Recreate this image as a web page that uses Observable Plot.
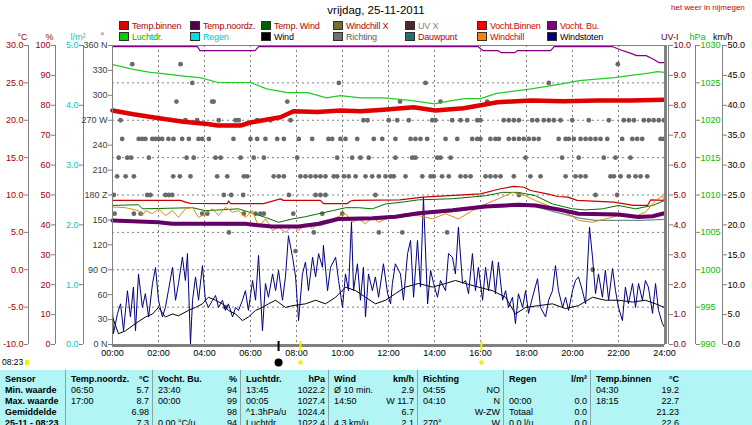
<!DOCTYPE html>
<html><head><meta charset="utf-8">
<script src="https://cdn.jsdelivr.net/npm/d3@7"></script>
<script src="https://cdn.jsdelivr.net/npm/@observablehq/plot@0.6"></script>
<style>
body{margin:0;background:#fff;font-family:"Liberation Sans",Arial,sans-serif;}
#wrap{position:relative;width:752px;height:425px;overflow:hidden;background:#fff;}
#chart{position:absolute;left:0;top:0;}
#title{position:absolute;left:0;width:752px;top:4px;text-align:center;font-size:11.5px;color:#000;}
#site{position:absolute;left:671px;top:3px;font-size:8px;color:#c00000;white-space:nowrap;}
.lg{position:absolute;font-size:9px;line-height:10px;white-space:nowrap;letter-spacing:-0.2px;}
.lg i{display:inline-block;width:8px;height:7px;border:1px solid #303030;margin-right:3px;vertical-align:-1px;}
#stamp{position:absolute;left:2px;top:357px;font-size:8.5px;color:#000;}
#stamp b{display:inline-block;width:4px;height:5px;background:#f0f000;margin-left:2px;vertical-align:0;}
#table{position:absolute;left:0;top:370px;width:752px;height:60px;background:#b3f4f4;}
.col{position:absolute;top:0;height:60px;}
.col.sep{border-left:1px solid #8aa4a4;}
.ln{height:11px;line-height:11px;font-size:9px;display:flex;justify-content:space-between;padding:0 4px 0 5px;white-space:nowrap;}
.ln.bold{font-weight:bold;}
</style></head>
<body><div id="wrap">
<div id="chart"></div>
<div id="title">vrijdag, 25-11-2011</div>
<div id="site">het weer in nijmegen</div>
<div id="legend"></div>
<div id="stamp">08:23<b></b></div>
<div id="table"></div>
</div>
<script>
// ---------- DATA ----------
// [hour, value]
const tempBinnen = [[0,21.3],[0.91,20.8],[1.96,20.3],[3.09,19.8],[4.13,19.5],[4.57,19.3],[5.57,19.3],[6.0,19.7],[6.74,20.1],[7.3,20.4],[7.87,21.2],[8.91,21.1],[9.91,21.3],[10.78,21.2],[11.78,21.4],[13.09,21.75],[14.04,21.3],[15.26,21.6],[16.0,22.0],[16.74,22.4],[18.17,22.65],[19.61,22.55],[21.09,22.65],[22.52,22.65],[24,22.75]];
const tempNoordz = [[0,6.6],[2.0,6.35],[2.6,6.15],[4.04,6.15],[5.78,6.15],[6.22,6.0],[6.94,5.8],[8.09,5.8],[8.96,6.15],[9.83,6.8],[11.3,6.9],[12.3,7.1],[13.3,7.55],[14.78,7.95],[16.2,8.45],[17.65,8.7],[18.4,8.6],[19.4,8.05],[20.26,7.5],[22.0,7.4],[22.87,7.05],[23.48,7.15],[24,7.55]];
const tempWind = [[0,8.6],[1.13,8.7],[1.3,8.15],[3.48,8.3],[4.04,7.9],[5.48,8.15],[6.09,7.55],[6.65,7.0],[7.22,6.35],[7.83,6.8],[8.39,7.1],[8.96,7.5],[9.57,7.9],[10.13,8.3],[10.7,8.3],[11.3,8.15],[11.87,8.8],[12.61,9.05],[13.3,9.35],[14.78,9.5],[16.22,9.9],[16.96,10.35],[17.65,10.35],[18.39,9.9],[19.13,8.8],[20.0,8.15],[20.57,8.0],[21.3,8.15],[22.0,8.6],[22.74,8.15],[23.48,8.6],[24,9.25]];
const windchill = [[0,8.4],[0.57,8.3],[1.13,7.9],[1.3,7.25],[1.43,7.9],[1.74,7.5],[2.0,8.15],[2.3,7.25],[2.61,7.9],[2.87,7.0],[3.17,8.15],[3.48,8.35],[3.74,7.0],[4.04,7.5],[4.35,8.15],[4.61,7.25],[4.91,8.35],[5.22,7.7],[5.48,7.9],[5.78,7.0],[6.09,7.9],[6.35,5.7],[6.65,6.8],[6.96,5.25],[7.22,5.7],[7.52,5.0],[7.83,5.9],[8.09,5.25],[8.39,6.15],[8.7,5.5],[8.96,6.35],[9.57,6.8],[10.13,7.5],[10.43,6.35],[10.7,6.8],[11.0,6.15],[11.3,7.0],[11.57,6.35],[11.87,6.8],[12.17,7.0],[12.74,7.5],[13.3,7.25],[13.91,6.8],[14.48,7.5],[15.04,6.8],[15.65,7.9],[16.22,8.8],[16.78,9.5],[17.39,10.35],[17.96,9.9],[18.39,9.25],[19.13,8.35],[19.7,7.7],[20.26,6.6],[20.87,6.35],[21.43,6.8],[22.0,7.25],[22.61,7.0],[23.17,7.7],[23.61,9.25],[23.91,9.9],[24,9.0]];
const dauwpunt = [[0,6.5],[2.0,6.3],[4.0,6.05],[6.0,5.95],[7.0,5.75],[8.1,5.75],[9.0,5.9],[9.8,6.6],[11.3,6.75],[12.3,6.95],[13.3,7.4],[14.8,7.8],[16.2,8.3],[17.6,8.55],[18.4,8.45],[19.4,7.6],[20.3,6.9],[21.0,6.6],[22.0,6.6],[23.0,6.6],[24,6.75]];
const vochtBinnen = [[0,48.2],[2.96,48.2],[3.17,47.6],[3.39,47.2],[5.0,47.1],[5.04,48.0],[5.13,47.1],[6.57,47.1],[7.3,48.7],[7.43,48.2],[9.04,48.2],[9.17,47.1],[10.2,47.1],[10.35,48.0],[10.5,48.2],[12.5,48.4],[13.5,49.3],[16.0,50.4],[16.87,52.1],[17.45,52.9],[17.9,52.6],[18.17,51.5],[18.9,50.4],[19.35,49.5],[19.8,49.3],[20.2,48.2],[21.8,47.6],[22.65,46.5],[23.26,46.5],[23.4,48.4],[24,48.2]];
const vochtBu = [[0,99.6],[3.7,99.6],[3.8,98.3],[6.2,98.3],[6.35,99.6],[15.9,99.6],[16.1,98.3],[16.75,98.3],[16.9,97.6],[17.5,97.6],[17.6,98.3],[19.05,98.3],[19.2,99.6],[21.75,99.6],[22.1,98.5],[22.45,97.6],[22.8,96.6],[23.2,96.6],[23.5,95.5],[23.75,94.3],[24,94.3]];
const luchtdruk = [[0,1027.45],[0.35,1027.2],[0.9,1026.8],[1.65,1026.4],[2.0,1026.3],[3.1,1025.9],[3.8,1025.7],[4.6,1025.05],[6.0,1025.05],[6.7,1024.2],[7.6,1023.7],[8.5,1023.7],[9.3,1023.0],[9.9,1023.3],[10.8,1023.0],[11.8,1023.0],[12.5,1022.8],[13.1,1022.6],[14.0,1022.2],[14.7,1022.6],[15.3,1022.9],[16.0,1022.9],[16.7,1023.6],[18.2,1024.2],[19.6,1024.9],[20.3,1025.3],[21.8,1025.7],[23.3,1026.3],[23.7,1026.5],[24,1026.4]];
const wind = [[0,4.6],[0.26,1.8],[0.57,2.3],[1.0,3.5],[1.43,4.6],[1.74,5.1],[2.0,6.2],[2.3,4.6],[2.61,5.1],[2.87,4.8],[3.3,5.7],[3.61,6.2],[3.91,6.8],[4.17,7.9],[4.48,7.4],[4.78,6.8],[5.04,5.7],[5.35,5.1],[5.65,4.0],[5.91,4.6],[6.22,5.7],[6.52,6.2],[6.78,6.8],[7.09,7.4],[7.52,6.2],[7.83,6.5],[8.39,6.8],[8.83,7.4],[9.26,6.8],[9.7,7.9],[10.13,9.6],[10.57,9.0],[11.0,7.9],[11.43,6.8],[11.87,7.4],[12.3,8.5],[12.74,9.6],[13.3,10.2],[13.91,9.6],[14.48,10.2],[14.91,10.7],[15.35,10.2],[15.91,9.6],[16.52,9.0],[17.09,7.9],[17.52,5.1],[17.96,6.2],[18.52,6.5],[19.13,6.8],[19.7,6.0],[20.26,6.5],[20.87,7.9],[21.43,7.4],[22.0,7.4],[22.61,7.1],[23.17,7.4],[23.61,6.8],[24,6.2]];
const windstoten = [[0,6.2],[0.04,1.8],[0.22,5.2],[0.35,6.8],[0.48,2.3],[0.65,9.0],[0.78,4.6],[0.91,9.6],[1.0,2.3],[1.13,11.8],[1.3,6.2],[1.43,8.5],[1.57,4.6],[1.74,10.2],[1.87,12.9],[2.0,7.4],[2.17,4.6],[2.3,6.2],[2.43,9.0],[2.61,12.9],[2.74,7.4],[2.87,10.2],[3.04,14.6],[3.17,10.7],[3.26,15.2],[3.39,0.1],[3.48,7.4],[3.61,11.3],[3.74,7.4],[3.91,13.2],[4.04,7.4],[4.17,6.2],[4.35,7.4],[4.48,8.2],[4.61,6.2],[4.78,7.4],[4.91,5.7],[5.04,6.8],[5.22,4.6],[5.35,6.2],[5.48,5.7],[5.65,7.4],[5.78,9.0],[5.91,5.7],[6.09,10.7],[6.22,7.4],[6.35,14.9],[6.52,2.3],[6.65,10.2],[6.78,7.9],[6.96,11.8],[7.09,9.0],[7.22,12.4],[7.39,7.4],[7.52,11.3],[7.65,18.2],[7.83,14.6],[7.96,11.3],[8.09,4.0],[8.26,11.8],[8.39,13.8],[8.52,9.0],[8.7,14.6],[8.83,11.3],[8.96,15.2],[9.13,12.9],[9.17,16.6],[9.35,9.0],[9.48,12.9],[9.7,14.6],[9.83,10.7],[10.0,6.2],[10.13,11.8],[10.26,9.0],[10.39,20.5],[10.48,9.0],[10.65,13.5],[10.78,7.4],[10.91,12.9],[11.0,4.6],[11.13,11.8],[11.3,9.0],[11.43,11.3],[11.57,7.9],[11.78,13.5],[11.96,8.5],[12.09,6.8],[12.17,10.2],[12.3,13.5],[12.52,11.8],[12.65,7.4],[12.83,15.2],[12.96,17.4],[13.09,7.9],[13.26,17.4],[13.39,9.6],[13.52,24.6],[13.7,6.8],[13.83,12.4],[13.96,10.2],[14.13,7.9],[14.26,10.7],[14.48,9.0],[14.61,15.2],[14.78,14.6],[14.91,11.8],[15.04,19.6],[15.22,10.2],[15.35,10.7],[15.48,8.5],[15.65,15.2],[15.78,9.0],[15.91,12.9],[16.09,7.4],[16.22,12.9],[16.35,9.0],[16.52,14.0],[16.65,8.5],[16.78,13.8],[16.96,7.4],[17.09,9.0],[17.22,6.2],[17.39,7.9],[17.52,3.5],[17.65,8.5],[17.83,6.2],[17.96,9.0],[18.09,5.2],[18.26,7.9],[18.48,11.0],[18.61,6.2],[18.83,4.6],[18.96,7.4],[19.13,9.0],[19.26,13.2],[19.39,9.0],[19.57,6.2],[19.7,7.9],[19.83,5.7],[20.0,9.0],[20.13,10.7],[20.26,11.3],[20.43,9.0],[20.57,6.8],[20.74,19.6],[20.87,14.6],[21.0,8.5],[21.13,11.8],[21.3,7.9],[21.43,12.4],[21.57,7.4],[21.74,12.7],[21.87,9.0],[22.0,6.2],[22.17,4.0],[22.3,9.6],[22.43,6.8],[22.61,10.2],[22.74,6.2],[22.87,10.2],[23.04,7.4],[23.17,10.7],[23.3,9.6],[23.48,5.2],[23.61,10.2],[23.74,5.7],[23.91,3.5],[24,2.9]];
// wind direction: [degrees, hours at which that direction was logged]
const richting = [
  [337.5,[0.86,2.96,21.97]],
  [315,[3.47,9.84,13.61,18.97]],
  [292.5,[2.78,4.33,4.40,7.60,12.5,14.26,16.29]],
  [270,[0.35,3.17,3.68,4.62,5.35,5.49,6.29,6.87,7.74,10.91,11.09,12.01,12.38,12.88,13.9,14.04,14.77,15.13,15.42,15.86,16.0,17.01,17.23,17.45,17.67,18.25,18.47,18.75,18.97,19.19,19.48,19.99,20.71,21.58,22.23,22.45,22.67,23.1,23.32,23.53,23.75,23.97]],
  [247.5,[0.42,1.14,1.29,1.43,1.73,1.87,2.01,2.16,2.43,2.65,3.03,3.32,3.74,3.9,4.19,5.26,6.0,6.29,6.65,7.16,7.45,8.1,8.68,9.39,9.55,9.91,10.13,10.64,11.36,11.73,12.3,12.96,13.17,13.39,13.68,14.48,14.99,15.64,15.86,16.0,16.43,16.65,16.8,17.23,17.45,17.67,17.88,18.1,18.32,18.53,19.4,19.7,19.84,20.06,20.35,20.57,20.78,21.0,21.22,21.51,22.16,22.6,22.81,23.03,23.83,23.97]],
  [225,[0.27,0.64,0.81,1.58,3.22,3.53,4.48,4.7,5.57,6.14,6.58,8.03,9.77,10.42,10.78,11.14,12.3,13.03,13.17,14.12,14.26,14.7,17.96,19.55,20.27,21.36,21.87,22.52]],
  [202.5,[0.2,0.57,0.93,2.64,2.93,3.39,4.55,4.99,5.71,5.86,7.01,7.23,7.45,8.17,8.39,8.61,8.83,9.04,9.26,9.62,9.77,10.06,10.27,10.57,11.0,11.29,11.58,11.87,12.09,12.23,12.74,13.47,13.83,13.97,14.33,14.62,15.13,15.35,15.57,16.22,16.43,16.65,16.87,17.45,18.17,18.61,19.7,20.13,20.35,20.57,21.65,21.8,22.09,22.45,22.74,22.96,23.25]],
  [180,[0.06,1.51,1.65,2.3,2.45,2.6,4.84,5.16,5.68,7.67,8.83,9.04,9.26,11.43,17.67,21.0,21.94]],
  [157.5,[0.09,0.93,1.22,3.9,4.12,5.71,6.22,6.43,6.58,7.86,9.12,9.99]],
  [135,[5.06,8.75,11.58,12.6,14.55]],
  [112.5,[7.96]],
  [90,[20.88]],
  [45,[4.91]]
];
const eventHours = [7.22, 8.17, 16.04];
const eventKinds = ["maan", "zon op", "zon onder"];

// axis ticks
const tempTicks = [-10,-5,0,5,10,15,20,25,30];
const humTicks = [0,10,20,30,40,50,60,70,80,90,100];
const rainTicks = [0,1,2,3,4,5];
const dirTicks = [0,30,60,90,120,150,180,210,240,270,300,330,360];
const dirLabels = ["0 N","30","60","90 O","120","150","180 Z","210","240","270 W","300","330","360 N"];
const uvTicks = [0,1,2,3,4,5,6,7,8,9,10];
const hpaTicks = [990,995,1000,1005,1010,1015,1020,1025,1030];
const kmhTicks = [0,5,10,15,20,25,30,35,40,45,50];
const hourTicks = [0,2,4,6,8,10,12,14,16,18,20,22,24];

// legend
const legendLabels = ["Temp.binnen","Temp.noordz.","Temp. Wind","Windchill X","UV X","Vocht.Binnen","Vocht. Bu.",
                      "Luchtdr.","Regen","Wind","Richting","Dauwpunt","Windchill","Windstoten"];
const legendSwatch = ["#e00000","#500050","#006000","#707030","#502828","#ff0000","#800080",
                      "#00d000","#00e0e0","#000000","#707070","#207070","#ff8000","#000080"];
const legendText = ["#b00000","#b00000","#b00000","#b00000","#808080","#d00000","#d00000",
                    "#00b000","#00c8c8","#000000","#606060","#b00000","#d00000","#000000"];

// table
const colHeads = ["Sensor","Temp.noordz.","Vocht. Bu.","Luchtdr.","Wind","Richting","Regen","Temp.binnen"];
const colUnits = ["","°C","%","hPa","km/h","","l/m²","°C"];
const rowHeads = ["Min. waarde","Max. waarde","Gemiddelde","25-11 - 08:23"];
const minRow = [["06:50","5.7"],["23:40","94"],["13:45","1022.2"],["Ø 10 min.","2.9"],["04:55","NO"],["",""],["04:30","19.2"]];
const maxRow = [["17:00","8.7"],["00:00","99"],["00:05","1027.4"],["14:50","W 11.7"],["04:10","N"],["00:00","0.0"],["18:15","22.7"]];
const gemRow = [["","6.98"],["","98"],["^1.3hPa/u","1024.4"],["","6.7"],["","W-ZW"],["Totaal","0.0"],["","21.23"]];
const nowRow = [["","7.3"],["0.00 °C/u","94"],["Luchtdr.","1022.4"],["4.3 km/u","2.1"],["270°","W"],["0.0 l/u","0.0"],["","22.6"]];

// ---------- unit conversions onto the common (direction) scale ----------
const yT = t => (t + 10) * 9;        // °C  -10..30
const yP = p => p * 3.6;             // %    0..100
const yR = r => r * 72;              // l/m² 0..5
const yUV = u => u * 36;             // UV   0..10
const yH = h => (h - 990) * 9;       // hPa  990..1030
const yW = w => w * 7.2;             // km/h 0..50

const dots = richting.flatMap(([deg, hs]) => hs.map(h => ({h, deg})));
const events = eventHours.map((h, i) => ({h, kind: eventKinds[i]}));

const grey = "#808080";
const dash = {stroke: grey, strokeOpacity: 1, strokeDasharray: "2,3"};
const lineOf = (data, conv, stroke, strokeWidth = 1) =>
  Plot.line(data, {x: d => d[0], y: d => conv(d[1]), stroke, strokeWidth, strokeLinejoin: "round"});
const ax = {tickSize: 4, tickPadding: 1, stroke: grey, label: null};

const chart = Plot.plot({
  width: 752, height: 372,
  marginLeft: 112, marginRight: 88, marginTop: 45, marginBottom: 28,
  x: {domain: [0, 24], axis: null, label: null},
  y: {domain: [0, 360], axis: null, label: null},
  style: {fontFamily: "'Liberation Sans', Arial, sans-serif", fontSize: "9px", background: "transparent", overflow: "visible"},
  marks: [
    Plot.gridX(hourTicks.slice(1, -1), dash),
    Plot.gridY([45, 90, 135, 180, 225, 270, 315], dash),
    Plot.dot(dots, {x: "h", y: "deg", r: 2.4, fill: "#6a6a6a", stroke: null}),
    lineOf(luchtdruk, yH, "#22cc22", 1.2),
    lineOf(vochtBu, yP, "#800080", 1.2),
    lineOf(vochtBinnen, yP, "#c80000", 1.2),
    lineOf(wind, yW, "#000000", 1),
    lineOf(windstoten, yW, "#000080", 1),
    lineOf(dauwpunt, yT, "#6f8f8f", 1.2),
    lineOf(tempWind, yT, "#007000", 1),
    lineOf(windchill, yT, "#e08a10", 1),
    lineOf(tempNoordz, yT, "#660066", 4),
    lineOf(tempBinnen, yT, "#e00000", 4.5),
    Plot.frame({stroke: grey}),
    Plot.ruleX([24], {stroke: grey, strokeWidth: 3, dx: 1}),
    Plot.ruleY([0], {stroke: grey, strokeWidth: 3, dy: 1}),
    // left axes
    Plot.ruleX([0], {stroke: grey, dx: -84}),
    Plot.axisY(tempTicks.map(yT), {...ax, anchor: "left", dx: -84, fill: "#a00000", tickFormat: v => (v / 9 - 10).toFixed(1)}),
    Plot.ruleX([0], {stroke: grey, dx: -57}),
    Plot.axisY(humTicks.map(yP), {...ax, anchor: "left", dx: -57, fill: "#a00000", tickFormat: v => String(Math.round(v / 3.6))}),
    Plot.ruleX([0], {stroke: grey, dx: -29}),
    Plot.axisY(rainTicks.map(yR), {...ax, anchor: "left", dx: -29, fill: "#00c8c8", tickFormat: v => (v / 72).toFixed(1)}),
    Plot.axisY(dirTicks, {...ax, anchor: "left", fill: "#404040", tickFormat: v => dirLabels[dirTicks.indexOf(v)]}),
    // right axes
    Plot.ruleX([24], {stroke: grey, dx: 4}),
    Plot.axisY(uvTicks.map(yUV), {...ax, anchor: "right", dx: 4, fill: "#800000", tickFormat: v => (v / 36).toFixed(1)}),
    Plot.ruleX([24], {stroke: grey, dx: 31}),
    Plot.axisY(hpaTicks.map(yH), {...ax, anchor: "right", dx: 31, fill: "#00c000", tickFormat: v => String(Math.round(v / 9 + 990))}),
    Plot.ruleX([24], {stroke: grey, dx: 58}),
    Plot.axisY(kmhTicks.map(yW), {...ax, anchor: "right", dx: 58, fill: "#000000", tickFormat: v => (v / 7.2).toFixed(1)}),
    // axis unit titles
    Plot.text(["°C"], {frameAnchor: "top-left", dx: -95, dy: -12, fill: "#a00000"}),
    Plot.text(["%"], {frameAnchor: "top-left", dx: -67, dy: -12, fill: "#a00000"}),
    Plot.text(["l/m²"], {frameAnchor: "top-left", dx: -42, dy: -12, fill: "#00c8c8"}),
    Plot.text(["°"], {frameAnchor: "top-left", dx: -12, dy: -13, fill: "#404040"}),
    Plot.text(["UV-I"], {frameAnchor: "top-right", dx: 14, dy: -12, fill: "#600000"}),
    Plot.text(["hPa"], {frameAnchor: "top-right", dx: 41, dy: -12, fill: "#00c000"}),
    Plot.text(["km/h"], {frameAnchor: "top-right", dx: 68, dy: -12, fill: "#000000"}),
    // x axis
    Plot.axisX(hourTicks, {anchor: "bottom", tickSize: 0, tickPadding: 5, label: null, fill: "#000", tickFormat: h => String(h).padStart(2, "0") + ":00"}),
    // events under the axis
    Plot.ruleX(events.filter(d => d.kind === "maan"), {x: "h", stroke: "#000", strokeWidth: 2, insetTop: 289, dy: 7}),
    Plot.ruleX(events.filter(d => d.kind !== "maan"), {x: "h", stroke: "#f0f000", strokeWidth: 2, insetTop: 289, dy: 7}),
    Plot.dot(events.filter(d => d.kind === "maan"), {x: "h", frameAnchor: "bottom", dy: 18, r: 4, fill: "#000"}),
    Plot.dot(events.filter(d => d.kind !== "maan"), {x: "h", frameAnchor: "bottom", dy: 18, r: 2.2, fill: "#f0f000"})
  ]
});
document.getElementById("chart").appendChild(chart);

// legend
const legendX = [119, 190, 261, 333, 405, 477, 547];
const lg = document.getElementById("legend");
legendLabels.forEach((label, i) => {
  const d = document.createElement("div");
  d.className = "lg";
  d.style.left = legendX[i % 7] + "px";
  d.style.top = (i < 7 ? 21 : 32) + "px";
  d.style.color = legendText[i];
  d.innerHTML = `<i style="background:${legendSwatch[i]}"></i>`;
  d.appendChild(document.createTextNode(label));
  lg.appendChild(d);
});

// table
const edges = [0, 65, 152, 240, 328, 417, 503, 590, 682];
const tbl = document.getElementById("table");
for (let c = 0; c < colHeads.length; c++) {
  const col = document.createElement("div");
  col.className = "col" + (c ? " sep" : "");
  col.style.left = edges[c] + "px";
  col.style.width = (edges[c + 1] - edges[c]) + "px";
  col.style.paddingTop = "4px";
  const mk = (a, b, bold) => {
    const l = document.createElement("div");
    l.className = "ln" + (bold ? " bold" : "");
    const s1 = document.createElement("span"); s1.textContent = a;
    const s2 = document.createElement("span"); s2.textContent = b;
    l.appendChild(s1); l.appendChild(s2);
    col.appendChild(l);
  };
  if (c === 0) {
    mk(colHeads[0], "", true);
    rowHeads.forEach(r => mk(r, "", true));
  } else {
    mk(colHeads[c], colUnits[c], true);
    [minRow, maxRow, gemRow, nowRow].forEach(r => mk(r[c - 1][0], r[c - 1][1], false));
  }
  tbl.appendChild(col);
}
</script>
</body></html>
